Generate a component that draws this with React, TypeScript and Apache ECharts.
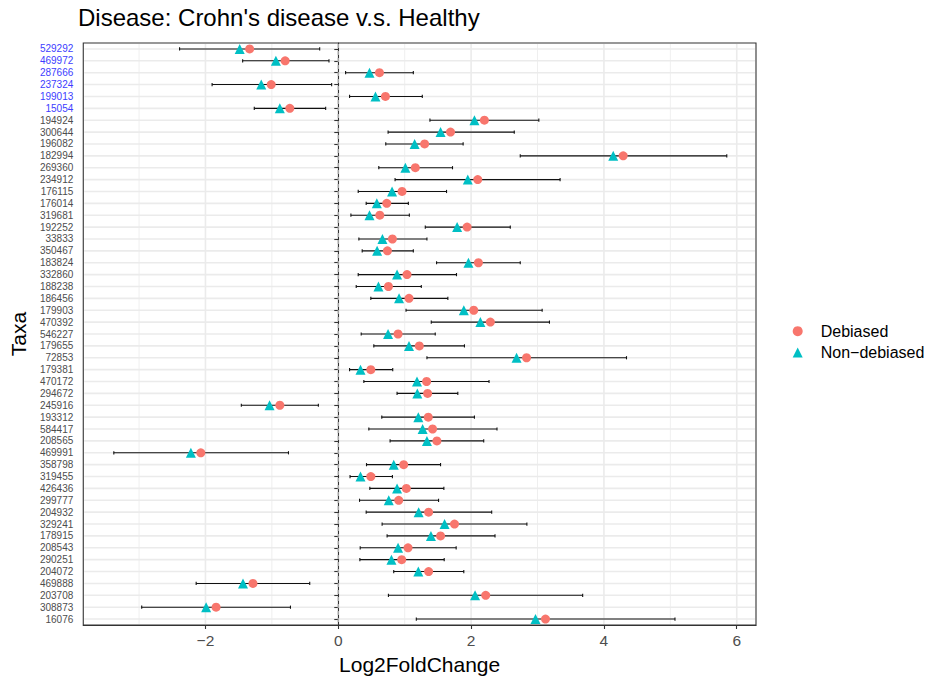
import React, { useEffect, useRef } from "react";
import * as echarts from "echarts";

const taxa = [
  "529292", "469972", "287666", "237324", "199013", "15054", "194924", "300644",
  "196082", "182994", "269360", "234912", "176115", "176014", "319681", "192252",
  "33833", "350467", "183824", "332860", "188238", "186456", "179903", "470392",
  "546227", "179655", "72853", "179381", "470172", "294672", "245916", "193312",
  "584417", "208565", "469991", "358798", "319455", "426436", "299777", "204932",
  "329241", "178915", "208543", "290251", "204072", "469888", "203708", "308873",
  "16076",
];

const highlightedTaxa = ["529292", "469972", "287666", "237324", "199013", "15054"];

const debiased = [
  -1.335, -0.8, 0.62, -1.01, 0.71, -0.73, 2.2, 1.69,
  1.3, 4.29, 1.16, 2.1, 0.96, 0.73, 0.625, 1.94,
  0.815, 0.74, 2.11, 1.035, 0.755, 1.065, 2.04, 2.29,
  0.9, 1.22, 2.835, 0.49, 1.33, 1.345, -0.88, 1.355,
  1.42, 1.485, -2.07, 0.985, 0.49, 1.025, 0.91, 1.36,
  1.75, 1.54, 1.05, 0.955, 1.36, -1.285, 2.22, -1.84,
  3.12,
];

const nonDebiased = [
  -1.485, -0.94, 0.47, -1.16, 0.56, -0.88, 2.05, 1.54,
  1.15, 4.14, 1.01, 1.95, 0.81, 0.58, 0.47, 1.79,
  0.665, 0.585, 1.96, 0.885, 0.605, 0.915, 1.89, 2.14,
  0.75, 1.065, 2.685, 0.335, 1.185, 1.19, -1.035, 1.205,
  1.27, 1.335, -2.22, 0.835, 0.335, 0.885, 0.76, 1.21,
  1.6, 1.395, 0.9, 0.8, 1.205, -1.435, 2.06, -1.99,
  2.97,
];

const ciLower = [
  -2.39, -1.44, 0.11, -1.9, 0.17, -1.265, 1.38, 0.75,
  0.715, 2.74, 0.61, 0.855, 0.3, 0.42, 0.19, 1.31,
  0.31, 0.36, 1.48, 0.3, 0.27, 0.49, 1.02, 1.4,
  0.345, 0.535, 1.335, 0.17, 0.385, 0.885, -1.46, 0.655,
  0.46, 0.78, -3.38, 0.425, 0.177, 0.475, 0.32, 0.42,
  0.66, 0.735, 0.33, 0.325, 0.835, -2.14, 0.755, -2.96,
  1.175,
];

const ciUpper = [
  -0.28, -0.14, 1.13, -0.1, 1.265, -0.19, 3.02, 2.65,
  1.88, 5.85, 1.72, 3.34, 1.63, 1.055, 1.07, 2.59,
  1.335, 1.13, 2.74, 1.78, 1.25, 1.65, 3.07, 3.18,
  1.46, 1.9, 4.34, 0.82, 2.27, 1.8, -0.3, 2.05,
  2.39, 2.19, -0.75, 1.54, 0.815, 1.59, 1.51, 2.31,
  2.84, 2.36, 1.775, 1.595, 1.89, -0.43, 3.68, -0.72,
  5.07,
];

const xMajorTicks = [-2, 0, 2, 4, 6];
const xMinorTicks = [-3, -1, 1, 3, 5];
const xMin = -3.84;
const xMax = 6.29;
const referenceLine = 0;

export default function App() {
  const ref = useRef<HTMLDivElement>(null);

  useEffect(() => {
    if (!ref.current) return;
    const chart = echarts.init(ref.current, null, { renderer: "svg" });
    const fontFamily = "'Liberation Sans', Arial, Helvetica, sans-serif";
    const minus = (s: string) => s.replace("-", "\u2212");

    const option: any = {
      animation: false,
      backgroundColor: "#ffffff",
      title: {
        text: "Disease: Crohn's disease v.s. Healthy",
        left: 78,
        top: 5,
        padding: 0,
        textStyle: { fontFamily, fontSize: 24, fontWeight: "normal", color: "#000000" },
      },
      legend: {
        orient: "vertical",
        left: 792.7,
        top: 323.2,
        padding: 0,
        itemWidth: 10,
        itemHeight: 10,
        itemGap: 5.3,
        data: [
          { name: "Debiased", icon: "circle" },
          { name: "Non-debiased", icon: "triangle" },
        ],
        formatter: (name: string) => minus(name),
        textStyle: { fontFamily, fontSize: 16, color: "#000000", padding: [0, 0, 0, 13] },
      },
      grid: {
        left: 79,
        top: 43,
        width: 677,
        height: 582,
        show: true,
        borderColor: "#333333",
        borderWidth: 1.1,
        backgroundColor: "#ffffff",
      },
      xAxis: {
        type: "value",
        min: xMin,
        max: xMax,
        name: "Log2FoldChange",
        nameLocation: "middle",
        nameGap: 29,
        nameTextStyle: { fontFamily, fontSize: 21, color: "#000000" },
        axisLine: { show: true, onZero: false, lineStyle: { color: "#333333", width: 1.1 } },
        axisTick: { show: true, customValues: xMajorTicks, length: 4, lineStyle: { color: "#333333", width: 1.1 } },
        axisLabel: {
          customValues: xMajorTicks,
          formatter: (v: number) => minus(String(v)),
          color: "#4D4D4D",
          fontSize: 15.5,
          fontFamily,
          margin: 7,
        },
        splitLine: { show: false },
      },
      yAxis: {
        type: "category",
        data: taxa,
        inverse: true,
        name: "Taxa",
        nameLocation: "middle",
        nameGap: 49,
        nameRotate: 90,
        nameTextStyle: { fontFamily, fontSize: 21, color: "#000000" },
        axisLine: { show: true, lineStyle: { color: "#333333", width: 1.1 } },
        axisTick: { show: true, alignWithLabel: true, interval: 0, length: 4, lineStyle: { color: "#333333", width: 1.1 } },
        axisLabel: {
          interval: 0,
          fontSize: 10,
          fontFamily,
          margin: 10,
          color: (v: string) => (highlightedTaxa.includes(v) ? "#3d3dff" : "#4D4D4D"),
        },
        splitLine: { show: false },
      },
      series: [
        {
          name: "hgrid",
          type: "custom",
          silent: true,
          z: 0,
          encode: { x: 0, y: 1 },
          data: taxa.map((_, i) => [0, i]),
          renderItem: (params: any, api: any) => {
            const cs = params.coordSys;
            const y = api.coord([0, api.value(1)])[1];
            return {
              type: "line",
              shape: { x1: cs.x + 1, y1: y, x2: cs.x + cs.width - 1, y2: y },
              style: { stroke: "#EBEBEB", lineWidth: 1.6 },
            };
          },
        },
        {
          name: "vgrid",
          type: "custom",
          silent: true,
          z: 0,
          encode: { x: 0, y: 1 },
          data: [...xMinorTicks.map((v) => [v, 0, 0]), ...xMajorTicks.map((v) => [v, 0, 1])],
          renderItem: (params: any, api: any) => {
            const cs = params.coordSys;
            const x = api.coord([api.value(0), 0])[0];
            const major = api.value(2) === 1;
            return {
              type: "line",
              shape: { x1: x, y1: cs.y + 1, x2: x, y2: cs.y + cs.height - 1 },
              style: { stroke: "#EBEBEB", lineWidth: major ? 1.6 : 0.8 },
            };
          },
        },
        {
          name: "zero",
          type: "custom",
          silent: true,
          z: 1,
          encode: { x: 0, y: 1 },
          data: [[referenceLine, 0]],
          renderItem: (params: any, api: any) => {
            const cs = params.coordSys;
            const x = api.coord([api.value(0), 0])[0];
            return {
              type: "line",
              shape: { x1: x, y1: cs.y + 1, x2: x, y2: cs.y + cs.height - 1 },
              style: { stroke: "#ADADAD", lineWidth: 1.3, lineDash: [4, 3] },
            };
          },
        },
        {
          name: "errorbar",
          type: "custom",
          silent: true,
          z: 2,
          encode: { x: [0, 1], y: 2 },
          data: taxa.map((_, i) => [ciLower[i], ciUpper[i], i]),
          renderItem: (params: any, api: any) => {
            const p1 = api.coord([api.value(0), api.value(2)]);
            const p2 = api.coord([api.value(1), api.value(2)]);
            const h = 1.6;
            const st = { stroke: "#111111", lineWidth: 1.1 };
            return {
              type: "group",
              children: [
                { type: "line", shape: { x1: p1[0], y1: p1[1], x2: p2[0], y2: p2[1] }, style: st },
                { type: "line", shape: { x1: p1[0], y1: p1[1] - h, x2: p1[0], y2: p1[1] + h }, style: st },
                { type: "line", shape: { x1: p2[0], y1: p2[1] - h, x2: p2[0], y2: p2[1] + h }, style: st },
              ],
            };
          },
        },
        {
          name: "Non-debiased",
          type: "scatter",
          z: 3,
          symbol: "triangle",
          symbolSize: 10,
          itemStyle: { color: "#00BFC4", opacity: 1 },
          data: nonDebiased.map((v, i) => [v, i]),
        },
        {
          name: "Debiased",
          type: "scatter",
          z: 4,
          symbol: "circle",
          symbolSize: 9,
          itemStyle: { color: "#F8766D", opacity: 1 },
          data: debiased.map((v, i) => [v, i]),
        },
      ],
    };

    chart.setOption(option);
    return () => chart.dispose();
  }, []);

  return (
    <div
      ref={ref}
      style={{ position: "fixed", left: 0, top: 0, width: 932, height: 681 }}
    />
  );
}
